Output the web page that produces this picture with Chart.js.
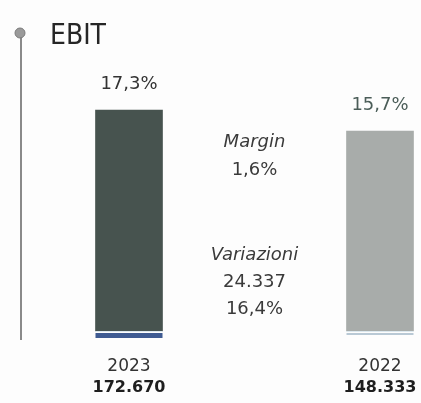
<!DOCTYPE html>
<html>
<head>
<meta charset="utf-8">
<script src="https://cdn.jsdelivr.net/npm/chart.js@4.4.0/dist/chart.umd.min.js"></script>
<style>
  body { margin: 0; background: #fdfdfd; }
  #wrap { width: 421px; height: 403px; position: relative; }
</style>
</head>
<body>
<div id="wrap"><canvas id="chart"></canvas></div>
<script>
const years = ["2023", "2022"];
const ebit = [172670, 148333];
const ebitText = ["172.670", "148.333"];
const margins = ["17,3%", "15,7%"];
const marginDelta = "1,6%";
const ebitDelta = "24.337";
const ebitDeltaPct = "16,4%";

const barColors = ["#47534f", "#a8acaa"];
const bandColors = ["#3f5b92", "#b9c9d5"];
const marginColors = ["#333333", "#4b5d58"];

// the printed bars are not drawn from zero
const yFloor = -83500;

const chartCanvas = document.querySelector("#chart");

// draws the title, side rule and all the text around the bars
const decorations = {
  id: "decorations",
  beforeDatasetsDraw(chart) {
    const ctx = chart.ctx;
    ctx.save();
    ctx.strokeStyle = "#8a8a8a";
    ctx.lineWidth = 2;
    ctx.beginPath();
    ctx.moveTo(21, 36);
    ctx.lineTo(21, 340);
    ctx.stroke();
    ctx.fillStyle = "#9a9a9a";
    ctx.strokeStyle = "#7a7a7a";
    ctx.lineWidth = 1;
    ctx.beginPath();
    ctx.arc(20, 33, 5, 0, Math.PI * 2);
    ctx.fill();
    ctx.stroke();

    ctx.fillStyle = "#262626";
    ctx.textAlign = "left";
    ctx.font = "28px 'DejaVu Sans Condensed', 'DejaVu Sans', sans-serif";
    ctx.fillText("EBIT", 50, 44);
    ctx.restore();
  },
  afterDatasetsDraw(chart) {
    const ctx = chart.ctx;
    const bars = chart.getDatasetMeta(0).data;
    ctx.save();
    ctx.textAlign = "center";
    bars.forEach((bar, i) => {
      const left = bar.x - bar.width / 2;
      ctx.fillStyle = "#dce8ee";
      ctx.fillRect(left, bar.base, bar.width, 1);
      ctx.fillStyle = bandColors[i];
      ctx.fillRect(left, bar.base + 2, bar.width, i == 0 ? 5 : 2);

      ctx.fillStyle = marginColors[i];
      ctx.font = "18px 'DejaVu Sans', sans-serif";
      ctx.fillText(margins[i], bar.x, bar.y - 21);

      ctx.fillStyle = "#333333";
      ctx.font = "17px 'DejaVu Sans', sans-serif";
      ctx.fillText(years[i], bar.x, 371);
      ctx.font = "bold 16px 'DejaVu Sans', sans-serif";
      ctx.fillStyle = "#1e1e1e";
      ctx.fillText(ebitText[i], bar.x, 392);
    });

    const mid = (bars[0].x + bars[1].x) / 2;
    ctx.fillStyle = "#3a3a3a";
    ctx.font = "italic 18px 'DejaVu Sans', sans-serif";
    ctx.fillText("Margin", mid, 147);
    ctx.fillText("Variazioni", mid, 260);
    ctx.font = "18px 'DejaVu Sans', sans-serif";
    ctx.fillText(marginDelta, mid, 175);
    ctx.fillText(ebitDelta, mid, 287);
    ctx.fillText(ebitDeltaPct, mid, 314);
    ctx.restore();
  },
};

const config = {
  type: "bar",
  data: {
    labels: years,
    datasets: [
      {
        label: "EBIT",
        data: ebit,
        base: yFloor,
        backgroundColor: barColors,
        barThickness: 67,
        clip: false,
      },
    ],
  },
  options: {
    responsive: true,
    maintainAspectRatio: false,
    animation: false,
    layout: {
      padding: { left: 129, right: 41, top: 110, bottom: 72 },
    },
    plugins: {
      legend: { display: false },
      tooltip: { enabled: false },
    },
    scales: {
      x: { display: false, offset: false },
      y: {
        display: false,
        min: yFloor,
        max: Math.max(...ebit),
      },
    },
  },
  plugins: [decorations],
};

const myChart = new Chart(chartCanvas, config);
</script>
</body>
</html>
